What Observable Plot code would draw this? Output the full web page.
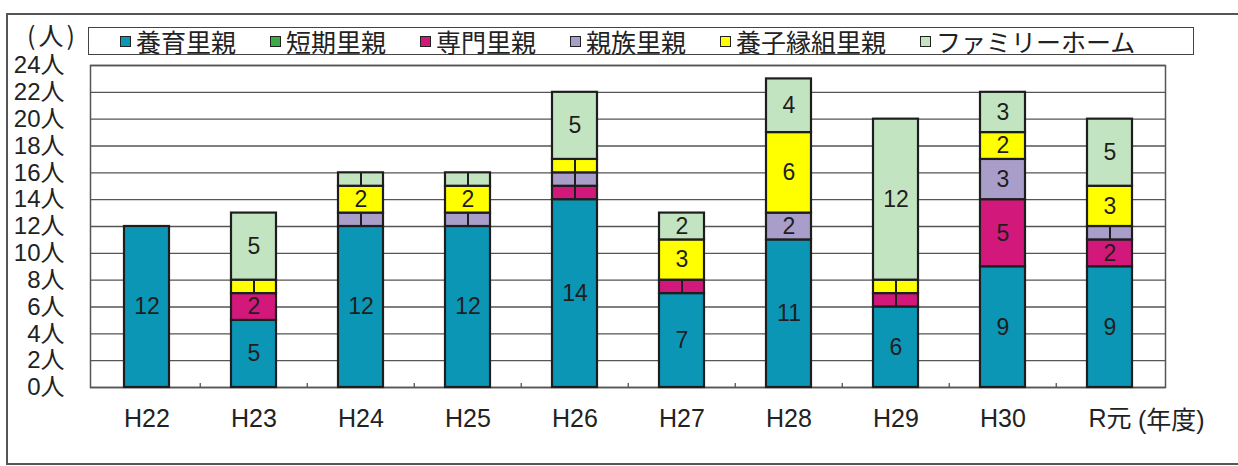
<!DOCTYPE html>
<html><head><meta charset="utf-8">
<script src="https://cdn.jsdelivr.net/npm/d3@7"></script>
<script src="https://cdn.jsdelivr.net/npm/@observablehq/plot@0.6"></script>
<style>
html,body{margin:0;padding:0;background:#fff;}
#wrap{position:relative;width:1238px;height:466px;overflow:hidden;font-family:"Liberation Sans","Noto Sans CJK JP",sans-serif;color:#222;}
#outer{position:absolute;left:6px;top:13px;width:1240px;height:448px;border-left:2px solid #555;border-top:2px solid #555;border-bottom:2px solid #555;pointer-events:none;}
#head{position:relative;height:40px;}
#unit{position:absolute;left:27px;top:22px;font-size:25px;line-height:25px;height:25px;letter-spacing:3px;font-family:"Noto Sans CJK JP",sans-serif;}
#legend{position:absolute;left:88px;top:27px;width:1073px;height:26px;border:1.5px solid #444;display:flex;align-items:center;padding-left:31px;box-sizing:content-box;font-family:"Noto Sans CJK JP",sans-serif;font-size:25px;line-height:26px;background:#fff;z-index:2;}
#legend .it{display:flex;align-items:center;margin-right:34px;}
#legend .sw{width:9px;height:9px;border:1.5px solid #222;margin-right:5px;}
svg{display:block;}
</style></head>
<body><div id="wrap"><div id="outer"></div><div id="head"><div id="unit">(人)</div><div id="legend"></div></div><div id="chart"></div></div>
<script>
const years = ["H22","H23","H24","H25","H26","H27","H28","H29","H30","R元"];
const types = ["養育里親","短期里親","専門里親","親族里親","養子縁組里親","ファミリーホーム"];
const colors = ["#0b96b6","#3cab45","#d2197b","#a99dca","#ffff00","#c3e4c1"];
const yoiku    = [12,5,12,12,14,7,11,6,9,9];
const tanki    = [0,0,0,0,0,0,0,0,0,0];
const senmon   = [0,2,0,0,1,1,0,1,5,2];
const shinzoku = [0,0,1,1,1,0,2,0,3,1];
const yoshi    = [0,1,2,2,1,3,6,1,2,3];
const fh       = [0,5,1,1,5,2,4,12,3,5];
const yTicks = [0,2,4,6,8,10,12,14,16,18,20,22,24];
const yearNote = "(年度)";

const series = [yoiku, tanki, senmon, shinzoku, yoshi, fh];
const rows = [];
years.forEach((yr, i) => {
  let cum = 0;
  types.forEach((t, j) => {
    const v = series[j][i];
    if (v > 0) rows.push({year: yr, type: t, value: v, lo: cum, hi: cum + v});
    cum += v;
  });
});

const legend = document.getElementById("legend");
types.forEach((t, j) => {
  const it = document.createElement("div"); it.className = "it";
  const sw = document.createElement("div"); sw.className = "sw"; sw.style.background = colors[j];
  const tx = document.createElement("span"); tx.textContent = t;
  it.appendChild(sw); it.appendChild(tx); legend.appendChild(it);
});

const sans = "'Liberation Sans','Noto Sans CJK JP',sans-serif";
const W = 1238, H = 426, mL = 90, mR = 73;
const step = (W - mL - mR) / years.length;

const chart = Plot.plot({
  width: W, height: H,
  marginTop: 25, marginBottom: 79, marginLeft: mL, marginRight: mR,
  style: {background: "transparent", color: "#222", fontFamily: sans},
  x: {domain: years, paddingInner: 0.58, paddingOuter: 0.29, label: null},
  y: {domain: [0, 24], label: null},
  color: {domain: types, range: colors},
  marks: [
    Plot.gridY(yTicks, {stroke: "#555", strokeOpacity: 1, strokeWidth: 1.3}),
    Plot.frame({stroke: "#555", strokeWidth: 1.5}),
    Plot.ruleX(years.slice(1), {x: d => d, y1: 0, y2: 0.3, dx: -step / 2, stroke: "#555", strokeWidth: 1.3}),
    Plot.barY(rows, Plot.stackY({x: "year", y: "value", fill: "type", order: types, stroke: "#1e1e1e", strokeWidth: 2.2})),
    Plot.text(rows, Plot.stackY({x: "year", y: "value", z: "type", order: types,
      text: d => d.value >= 2 ? String(d.value) : "", fontSize: 23, fill: "#1e1e1e"})),
    Plot.ruleX(rows.filter(d => d.value === 1), {x: "year", y1: "lo", y2: "hi", stroke: "#1e1e1e", strokeWidth: 2}),
    Plot.axisY({ticks: yTicks, tickFormat: d => d + "人", tickSize: 0, tickPadding: 26, fontSize: 24, fill: "#222"}),
    Plot.axisX({tickSize: 0, tickPadding: 22, fontSize: 25, fill: "#222"}),
    Plot.text([yearNote], {x: () => years[years.length - 1], y: () => 0, text: d => d, dx: 28, dy: 33,
      textAnchor: "start", fontSize: 25, fill: "#222"})
  ]
});
document.getElementById("chart").appendChild(chart);
</script></body></html>
